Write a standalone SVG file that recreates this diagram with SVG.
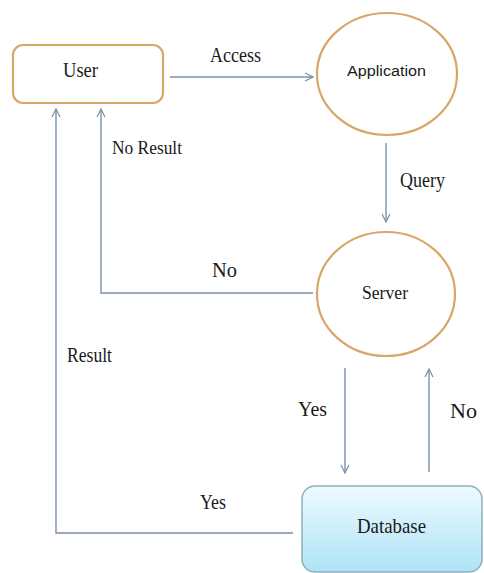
<svg xmlns="http://www.w3.org/2000/svg" width="484" height="573" viewBox="0 0 484 573">
  <style>
    .node { fill: #ffffff; stroke: #d8a767; stroke-width: 2.2; }
    .db { fill: url(#dbFill); stroke: #8fb0bd; stroke-width: 1.5; }
    .conn { fill: none; stroke: #7c90a6; stroke-width: 1.4; }
    .lbl { font-family: "Liberation Serif", "Times New Roman", serif; fill: #1a1a1a; }
    .sans { font-family: "Liberation Sans", Arial, sans-serif; fill: #1a1a1a; }
  </style>
  <defs>
    <linearGradient id="dbFill" x1="0" y1="0" x2="0" y2="1">
      <stop offset="0" stop-color="#eefaff"/>
      <stop offset="1" stop-color="#aee3f6"/>
    </linearGradient>
    <marker id="arrow" viewBox="0 0 10 10" refX="9" refY="5" markerWidth="10" markerHeight="10" markerUnits="userSpaceOnUse" orient="auto">
      <path d="M1,1 L9,5 L1,9" fill="none" stroke="#7c90a6" stroke-width="1.2"/>
    </marker>
  </defs>

  <rect width="484" height="573" fill="#ffffff"/>

  <!-- connectors -->
  <g id="connectors">
    <line class="conn" x1="170" y1="77" x2="313" y2="77" marker-end="url(#arrow)"/>
    <line class="conn" x1="386" y1="143" x2="386" y2="222" marker-end="url(#arrow)"/>
    <polyline class="conn" points="313,293 101,293 101,109" marker-end="url(#arrow)"/>
    <polyline class="conn" points="293,533 56,533 56,109" marker-end="url(#arrow)"/>
    <line class="conn" x1="345" y1="368" x2="345" y2="473" marker-end="url(#arrow)"/>
    <line class="conn" x1="429" y1="472" x2="429" y2="369" marker-end="url(#arrow)"/>
  </g>

  <!-- edge labels -->
  <g id="labels">
    <text class="lbl" x="210" y="62" font-size="20" textLength="51" lengthAdjust="spacingAndGlyphs">Access</text>
    <text class="lbl" x="400" y="187" font-size="20" textLength="45" lengthAdjust="spacingAndGlyphs">Query</text>
    <text class="lbl" x="112" y="154" font-size="19" textLength="70" lengthAdjust="spacingAndGlyphs">No Result</text>
    <text class="lbl" x="212" y="277" font-size="22" textLength="25" lengthAdjust="spacingAndGlyphs">No</text>
    <text class="lbl" x="67" y="362" font-size="20" textLength="45" lengthAdjust="spacingAndGlyphs">Result</text>
    <text class="lbl" x="298" y="416" font-size="20" textLength="29" lengthAdjust="spacingAndGlyphs">Yes</text>
    <text class="lbl" x="450" y="418" font-size="21" textLength="27" lengthAdjust="spacingAndGlyphs">No</text>
    <text class="lbl" x="200" y="509" font-size="20" textLength="26" lengthAdjust="spacingAndGlyphs">Yes</text>
  </g>

  <g id="user">
    <rect class="node" x="13" y="45" width="150" height="58" rx="10"/>
    <text class="lbl" x="63" y="77" font-size="20" textLength="35" lengthAdjust="spacingAndGlyphs">User</text>
  </g>

  <g id="application">
    <ellipse class="node" cx="387" cy="74" rx="70" ry="61"/>
    <text class="sans" x="347" y="76" font-size="15.5" textLength="79" lengthAdjust="spacingAndGlyphs">Application</text>
  </g>

  <g id="server">
    <ellipse class="node" cx="386" cy="294" rx="69" ry="62"/>
    <text class="lbl" x="362" y="299" font-size="19" textLength="46" lengthAdjust="spacingAndGlyphs">Server</text>
  </g>

  <g id="database">
    <rect class="db" x="302" y="486" width="180" height="86" rx="13"/>
    <text class="lbl" x="357" y="533" font-size="22" textLength="69" lengthAdjust="spacingAndGlyphs">Database</text>
  </g>
</svg>
